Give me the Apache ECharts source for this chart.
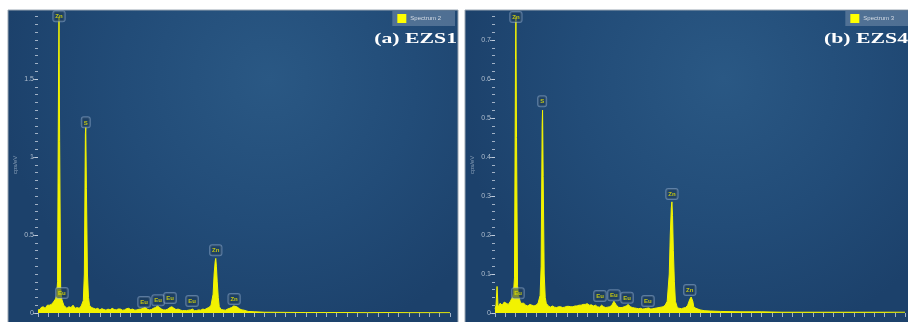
<!DOCTYPE html>
<html>
<head>
<meta charset="utf-8">
<script src="https://cdn.jsdelivr.net/npm/echarts@6/dist/echarts.min.js"></script>
<style>
  html, body { margin: 0; padding: 0; background: #ffffff; }
  #chart { width: 908px; height: 322px; }
</style>
</head>
<body>
<div id="chart"></div>
<script>
// EDS spectra of the two samples (energy in keV, intensity in cps/eV)
const energyKeV = [
  0, 0.05, 0.1, 0.15, 0.2, 0.25, 0.3, 0.35, 0.4, 0.45,
  0.5, 0.55, 0.6, 0.65, 0.7, 0.75, 0.8, 0.85, 0.9, 0.95,
  1.0, 1.02, 1.05, 1.1, 1.15, 1.2, 1.25, 1.3, 1.4, 1.5,
  1.6, 1.7, 1.8, 1.9, 2.0, 2.1, 2.2, 2.25, 2.3, 2.32,
  2.35, 2.4, 2.45, 2.5, 2.6, 2.7, 2.8, 2.9, 3.0, 3.1,
  3.2, 3.3, 3.4, 3.5, 3.6, 3.7, 3.8, 3.9, 4.0, 4.1,
  4.2, 4.3, 4.4, 4.5, 4.6, 4.7, 4.8, 4.9, 5.0, 5.1,
  5.2, 5.3, 5.4, 5.5, 5.6, 5.7, 5.8, 5.9, 6.0, 6.1,
  6.2, 6.3, 6.4, 6.5, 6.6, 6.7, 6.8, 6.9, 7.0, 7.1,
  7.2, 7.3, 7.4, 7.5, 7.6, 7.7, 7.8, 7.9, 8.0, 8.1,
  8.2, 8.3, 8.4, 8.5, 8.55, 8.6, 8.63, 8.66, 8.7, 8.75,
  8.8, 8.9, 9.0, 9.1, 9.2, 9.3, 9.4, 9.5, 9.57, 9.65,
  9.7, 9.8, 9.9, 10.0, 10.2, 10.5, 11, 12, 13, 14,
  15, 16, 17, 18, 19, 20
];

const countsEZS1 = [
  0.02, 0.03, 0.022, 0.035, 0.028, 0.04, 0.045, 0.03, 0.038, 0.05,
  0.06, 0.05, 0.045, 0.055, 0.06, 0.07, 0.08, 0.09, 0.11, 0.2,
  1.6, 1.9, 1.1, 0.16, 0.09, 0.07, 0.05, 0.045, 0.03, 0.04,
  0.035, 0.05, 0.03, 0.035, 0.03, 0.045, 0.08, 0.25, 1.15, 1.19,
  0.8, 0.25, 0.1, 0.05, 0.035, 0.03, 0.025, 0.03, 0.02, 0.028,
  0.022, 0.018, 0.025, 0.02, 0.03, 0.022, 0.02, 0.026, 0.025, 0.018,
  0.02, 0.028, 0.03, 0.022, 0.025, 0.018, 0.02, 0.024, 0.025, 0.03,
  0.035, 0.025, 0.02, 0.022, 0.03, 0.035, 0.045, 0.035, 0.025, 0.02,
  0.02, 0.025, 0.035, 0.04, 0.03, 0.022, 0.025, 0.02, 0.015, 0.016,
  0.015, 0.018, 0.02, 0.025, 0.015, 0.016, 0.02, 0.018, 0.025, 0.022,
  0.03, 0.035, 0.05, 0.12, 0.25, 0.33, 0.35, 0.3, 0.2, 0.1,
  0.04, 0.022, 0.02, 0.018, 0.025, 0.03, 0.035, 0.045, 0.05, 0.04,
  0.03, 0.025, 0.02, 0.018, 0.01, 0.008, 0.005, 0.004, 0.003, 0.003,
  0.003, 0.002, 0.003, 0.002, 0.002, 0.002
];

const countsEZS4 = [
  0.01, 0.02, 0.068, 0.015, 0.02, 0.025, 0.03, 0.02, 0.022, 0.028,
  0.03, 0.025, 0.02, 0.022, 0.025, 0.03, 0.035, 0.04, 0.05, 0.09,
  0.65, 0.76, 0.45, 0.07, 0.045, 0.035, 0.025, 0.02, 0.025, 0.02,
  0.018, 0.022, 0.02, 0.018, 0.02, 0.025, 0.045, 0.12, 0.48, 0.52,
  0.35, 0.1, 0.04, 0.025, 0.018, 0.015, 0.018, 0.015, 0.014, 0.016,
  0.016, 0.014, 0.015, 0.017, 0.017, 0.016, 0.016, 0.018, 0.018, 0.02,
  0.02, 0.022, 0.022, 0.024, 0.02, 0.021, 0.018, 0.02, 0.016, 0.015,
  0.02, 0.016, 0.014, 0.015, 0.016, 0.02, 0.03, 0.022, 0.015, 0.014,
  0.014, 0.016, 0.018, 0.022, 0.016, 0.014, 0.013, 0.012, 0.011, 0.012,
  0.01, 0.011, 0.012, 0.013, 0.01, 0.011, 0.012, 0.013, 0.014, 0.015,
  0.016, 0.02, 0.03, 0.1, 0.2, 0.27, 0.285, 0.25, 0.16, 0.08,
  0.03, 0.013, 0.012, 0.011, 0.013, 0.014, 0.02, 0.035, 0.041, 0.03,
  0.015, 0.012, 0.01, 0.008, 0.006, 0.005, 0.004, 0.003, 0.003, 0.002,
  0.002, 0.002, 0.002, 0.002, 0.002, 0.002
];

// Element markers: name, energy and the height the tag sits at
const peakNames = ['Zn', 'Eu', 'S', 'Eu', 'Eu', 'Eu', 'Eu', 'Zn', 'Zn'];
const peakKeVEZS1 = [1.02, 1.16, 2.32, 5.15, 5.83, 6.41, 7.48, 8.63, 9.52];
const peakCpsEZS1 = [1.87, 0.096, 1.19, 0.038, 0.05, 0.064, 0.045, 0.37, 0.058];
const peakKeVEZS4 = [1.02, 1.12, 2.3, 5.12, 5.8, 6.44, 7.46, 8.63, 9.5];
const peakCpsEZS4 = [0.746, 0.038, 0.53, 0.031, 0.033, 0.026, 0.018, 0.292, 0.046];

// Axis ticks
const yLabelsEZS1 = [0, 0.5, 1, 1.5];
const yLabelsEZS4 = [0, 0.1, 0.2, 0.3, 0.4, 0.5, 0.6, 0.7];

const panelTitles = ['(a) EZS1', '(b) EZS4'];
const spectrumNames = ['Spectrum 2', 'Spectrum 3'];

const chart = echarts.init(document.getElementById('chart'), null, { renderer: 'canvas' });

function zip(xs, ys) { return xs.map((x, i) => [x, ys[i]]); }
function tags(xs, ys) { return xs.map((x, i) => ({ name: peakNames[i], value: [x, ys[i]] })); }

function panelFill() {
  return new echarts.graphic.RadialGradient(0.58, 0.22, 0.85, [
    { offset: 0, color: '#2a5884' },
    { offset: 0.55, color: '#224c78' },
    { offset: 1, color: '#1c416b' }
  ]);
}

const tickColor = 'rgba(205,215,228,0.75)';
const labelStyle = { color: '#aebdce', fontSize: 7, fontFamily: 'Liberation Sans', margin: 4 };

function minorAxis(grid, max, step) {
  return {
    type: 'value', gridIndex: grid, position: 'left', min: 0, max: max, interval: step,
    axisLine: { show: false }, splitLine: { show: false },
    axisTick: { show: true, length: 3, lineStyle: { color: tickColor, width: 1 } },
    axisLabel: { show: false },
    name: 'cps/eV', nameLocation: 'middle', nameGap: 20, nameRotate: 90,
    nameTextStyle: { color: '#8aa0b8', fontSize: 6, fontFamily: 'Liberation Sans' }
  };
}
function majorAxis(grid, max, labels) {
  return {
    type: 'value', gridIndex: grid, position: 'left', offset: 0, min: 0, max: max,
    axisLine: { show: false }, splitLine: { show: false },
    axisTick: { show: true, length: 5, customValues: labels, lineStyle: { color: tickColor, width: 1 } },
    axisLabel: Object.assign({ customValues: labels }, labelStyle)
  };
}
function energyAxis(grid) {
  return {
    type: 'value', gridIndex: grid, min: 0, max: 20, interval: 0.5,
    axisLine: { show: false }, splitLine: { show: false },
    axisTick: { show: true, length: 4, lineStyle: { color: tickColor, width: 1 } },
    axisLabel: { show: false }
  };
}

const tagLabel = {
  show: true, position: 'top', distance: 0,
  formatter: '{b}', color: '#e8e400', fontSize: 6, fontWeight: 'bold',
  fontFamily: 'Liberation Sans', lineHeight: 7,
  backgroundColor: 'rgba(28,58,90,0.7)', borderColor: 'rgba(150,175,205,0.65)',
  borderWidth: 1, borderRadius: 2, padding: [2, 2, 1, 2]
};

function spectrumSeries(name, axis, data) {
  return {
    name: name, type: 'line', xAxisIndex: axis, yAxisIndex: axis * 2,
    data: data, showSymbol: false, symbol: 'none', smooth: false,
    color: '#ffff00',
    lineStyle: { color: '#f4f400', width: 1 },
    areaStyle: { color: '#f2f200', opacity: 1 },
    z: 3, animation: false
  };
}
function tagSeries(axis, data) {
  return {
    type: 'scatter', xAxisIndex: axis, yAxisIndex: axis * 2, data: data,
    symbolSize: 0, label: tagLabel, z: 6, silent: true, animation: false
  };
}

const legendBase = {
  orient: 'horizontal', top: 11, icon: 'rect', itemWidth: 9, itemHeight: 9,
  backgroundColor: 'rgba(112,138,168,0.6)', padding: [3, 14, 3, 5],
  textStyle: { color: '#d6dde6', fontSize: 6, fontFamily: 'Liberation Sans', padding: [0, 0, 0, -1] },
  selectedMode: false
};

chart.setOption({
  backgroundColor: '#ffffff',
  animation: false,
  graphic: [
    { type: 'rect', z: -10, shape: { x: 8, y: 10, width: 450, height: 314 },
      style: { fill: panelFill(), stroke: '#9aa6b2', lineWidth: 1 } },
    { type: 'rect', z: -10, shape: { x: 465, y: 10, width: 445, height: 314 },
      style: { fill: panelFill(), stroke: '#9aa6b2', lineWidth: 1 } },
    { type: 'text', z: 20, x: 457, y: 32, scaleX: 1.45,
      style: { text: panelTitles[0], fill: '#ffffff', font: 'bold 15px "Liberation Serif"',
               textAlign: 'right', textVerticalAlign: 'top' } },
    { type: 'text', z: 20, x: 908, y: 32, scaleX: 1.45,
      style: { text: panelTitles[1], fill: '#ffffff', font: 'bold 15px "Liberation Serif"',
               textAlign: 'right', textVerticalAlign: 'top' } }
  ],
  legend: [
    Object.assign({ data: [spectrumNames[0]], right: 453 }, legendBase),
    Object.assign({ data: [spectrumNames[1]], right: 0 }, legendBase)
  ],
  grid: [
    { left: 38, right: 458, top: 16.6, bottom: 9, outerBoundsMode: 'none' },
    { left: 495, right: 3, top: 16.6, bottom: 9, outerBoundsMode: 'none' }
  ],
  xAxis: [energyAxis(0), energyAxis(1)],
  yAxis: [
    minorAxis(0, 1.9, 0.05), majorAxis(0, 1.9, yLabelsEZS1),
    minorAxis(1, 0.76, 0.02), majorAxis(1, 0.76, yLabelsEZS4)
  ],
  series: [
    spectrumSeries(spectrumNames[0], 0, zip(energyKeV, countsEZS1)),
    spectrumSeries(spectrumNames[1], 1, zip(energyKeV, countsEZS4)),
    tagSeries(0, tags(peakKeVEZS1, peakCpsEZS1)),
    tagSeries(1, tags(peakKeVEZS4, peakCpsEZS4))
  ]
});
</script>
</body>
</html>
